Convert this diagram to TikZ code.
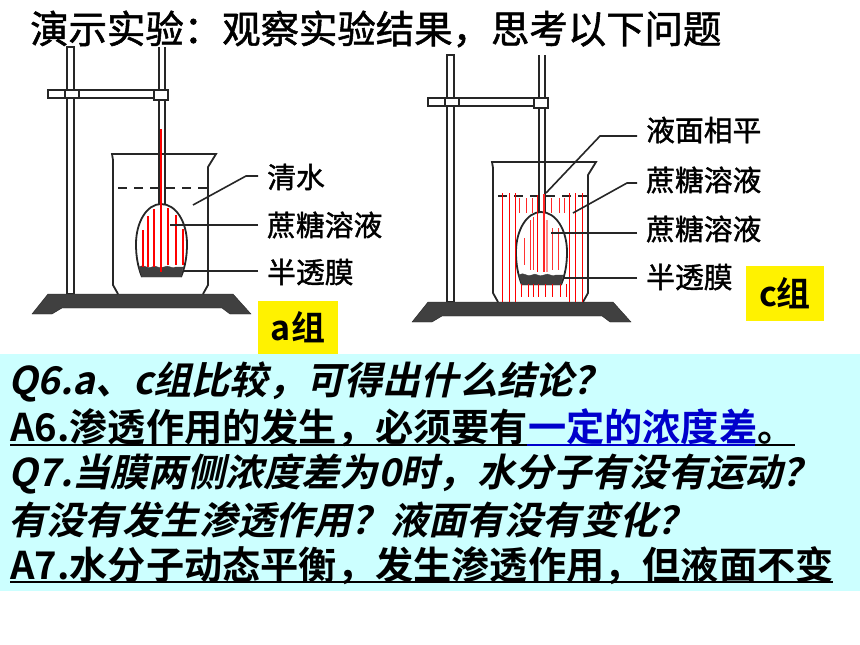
\documentclass[tikz,border=0pt]{standalone}
\usepackage{fontspec}
\setmainfont{Noto Sans CJK SC}[BoldFont={* Bold}]
\newfontfamily\heavyfont{Noto Sans CJK SC}[FakeBold=1.4]
\newfontfamily\slantfont{Noto Sans CJK SC Bold}[FakeSlant=0.22]
\usetikzlibrary{calc}
\definecolor{panelcyan}{HTML}{CCFFFF}
\definecolor{membrane}{HTML}{404040}
\tikzset{
	glass/.style={line width=1.8pt, color=black!85},
	leader/.style={line width=1.6pt, color=black!85},
	osmo/.style={line width=0.8pt, color=red},
	label/.style={anchor=west, inner sep=0pt, font=\fontsize{28.8}{29}\heavyfont},
	tag/.style={fill=yellow, inner sep=0pt, font=\fontsize{34}{34}\selectfont\bfseries},
	line/.style={anchor=west, inner sep=0pt, font=\fontsize{38.2}{38}\selectfont\bfseries},
	slanted/.style={anchor=west, inner sep=0pt, font=\fontsize{38.2}{38}\slantfont},
	rule/.style={line width=2pt}
}
% stand and beaker, drawn in the frame of group c
\newcommand{\standset}{
	\draw[glass, fill=white] (447, 55) rectangle (454, 302);
	\draw[glass, fill=white] (428, 98) rectangle (547, 106);
	\draw[glass, fill=white] (445, 98) rectangle (459, 106);
	\draw[glass] (539, 55) -- (539, 212);
	\draw[glass] (545, 55) -- (545, 212);
	\draw[glass, fill=white] (534, 98) rectangle (548, 108);
	\draw[fill=membrane, draw=black!85] (428, 302) -- (613, 302) -- (631, 322) -- (610, 322) -- (602, 316) -- (442, 316) -- (432, 322) -- (412, 322) -- cycle;
	\draw[glass] (498, 302) -- (493, 293) -- (493, 168) -- (492, 162) -- (596, 162) -- (588, 175) -- (588, 293) -- (583, 302);
	\draw[glass, line width=2.2pt, dash pattern=on 9pt off 7pt] (498, 196) -- (587, 196);
	\draw[glass] (522, 285) .. controls (518, 275) and (516, 265) .. (516, 252) .. controls (516, 230) and (527, 212) .. (541, 212) .. controls (556, 212) and (567, 230) .. (567, 252) .. controls (567, 265) and (565, 275) .. (561, 285);
	\draw[fill=membrane, draw=membrane] (519, 275) .. controls (524, 271) and (527, 278) .. (532, 275) .. controls (536, 272) and (539, 278) .. (544, 275) .. controls (549, 272) and (552, 278) .. (556, 275) -- (563, 275) -- (561, 285) -- (522, 285) -- cycle;
}
\begin{document}
\begin{tikzpicture}[x=1pt, y=-1pt]
	%%%%% START %%%%%
	\useasboundingbox (0, 0) rectangle (860, 645);
	\fill[white] (0, 0) rectangle (860, 645);
	\fill[panelcyan] (0, 354) rectangle (860, 591);

	\node[anchor=west, inner sep=0pt, font=\fontsize{38.4}{38}\heavyfont] (title) at (30, 29) {演示实验：观察实验结果，思考以下问题};

	\begin{scope}[shift={(-380, -8)}]
		\standset
	\end{scope}
	\standset

	% red lines of group a
	\draw[red, line width=2.6pt] (161, 129) -- (161, 272);
	\foreach \xa/\ya/\yb in {143/230/267, 148/216/267, 154/209/267, 168/208/265, 176/215/265, 183/229/265}
		\draw[osmo, line width=1.4pt] (\xa, \ya) -- (\xa, \yb);

	% red lines of group c
	\foreach \xa in {502, 509, 515, 569, 575, 582}
		\draw[osmo] (\xa, 193) -- (\xa, 302);
	\foreach \xa in {519, 526, 532, 551, 559, 564}
		\draw[osmo, color=red!85] (\xa, 198) -- (\xa, 213);
	\foreach \xa/\ya/\yb in {524/238/265, 530/220/270, 533/217/270, 552/228/270, 558/228/270}
		\draw[osmo, color=red!80] (\xa, \ya) -- (\xa, \yb);
	\foreach \xa in {521, 528, 533, 538, 545, 552, 560, 566}
		\draw[osmo] (\xa, 284) -- (\xa, 297);
	\draw[osmo] (537, 195) -- (537, 272);
	\draw[osmo, line width=1.6pt, color=red!85] (544, 194) -- (544, 272);
	\draw[osmo, line width=1.6pt, color=red!45] (547, 220) -- (547, 272);

	% labels
	\node[label] (water) at (267, 177) {清水};
	\node[label] (sugarA) at (267, 225) {蔗糖溶液};
	\node[label] (filmA) at (267, 272) {半透膜};
	\node[label] (level) at (646, 130) {液面相平};
	\node[label] (sugarC) at (646, 180) {蔗糖溶液};
	\node[label] (sugarD) at (646, 229) {蔗糖溶液};
	\node[label] (filmC) at (646, 277) {半透膜};

	\coordinate (waterEnd) at (193, 205);
	\coordinate (sugarAEnd) at (170, 225);
	\coordinate (filmAEnd) at (183, 271);
	\coordinate (levelEnd) at (546, 193);
	\coordinate (sugarCEnd) at (573, 213);
	\coordinate (sugarDEnd) at (551, 233);
	\coordinate (filmCEnd) at (563, 278);

	\draw[leader] (water.west) ++(-9, -1) -- ++(-12, 0) -- (waterEnd);
	\draw[leader] (sugarA.west) ++(-9, 0) -- (sugarAEnd);
	\draw[leader] (filmA.west) ++(-9, -1) -- (filmAEnd);
	\draw[leader] (level.west) ++(-9, 6) -- (600, 136) -- (levelEnd);
	\draw[leader] (sugarC.west) ++(-9, 3) -- (627, 183) -- (sugarCEnd);
	\draw[leader] (sugarD.west) ++(-9, 4) -- (sugarDEnd);
	\draw[leader] (filmC.west) ++(-9, 1) -- (filmCEnd);

	% group tags
	\node[tag, minimum width=80pt, minimum height=53pt] (tagA) at (298, 327) {a组};
	\node[tag, minimum width=78pt, minimum height=55pt] (tagC) at (785, 293) {c组};

	% text panel
	\node[slanted] (q6) at (8, 382) {Q6.a、c组比较，可得出什么结论？};
	\node[line] (a6) at (10, 428) {A6.渗透作用的发生，必须要有\textcolor{blue!80!black}{一定的浓度差}。};
	\node[slanted] (q7) at (8, 474) {Q7.当膜两侧浓度差为0时，水分子有没有运动？};
	\node[slanted] (q7b) at (8, 520) {有没有发生渗透作用？液面有没有变化？};
	\node[line] (a7) at (10, 566) {A7.水分子动态平衡，发生渗透作用，但液面不变};

	\draw[rule] (10, 445) -- (795, 445);
	\draw[rule, color=blue!80!black] (527, 445) -- (755, 445);
	\draw[rule] (10, 582) -- (833, 582);
	%%%%% END %%%%%
\end{tikzpicture}
\end{document}
